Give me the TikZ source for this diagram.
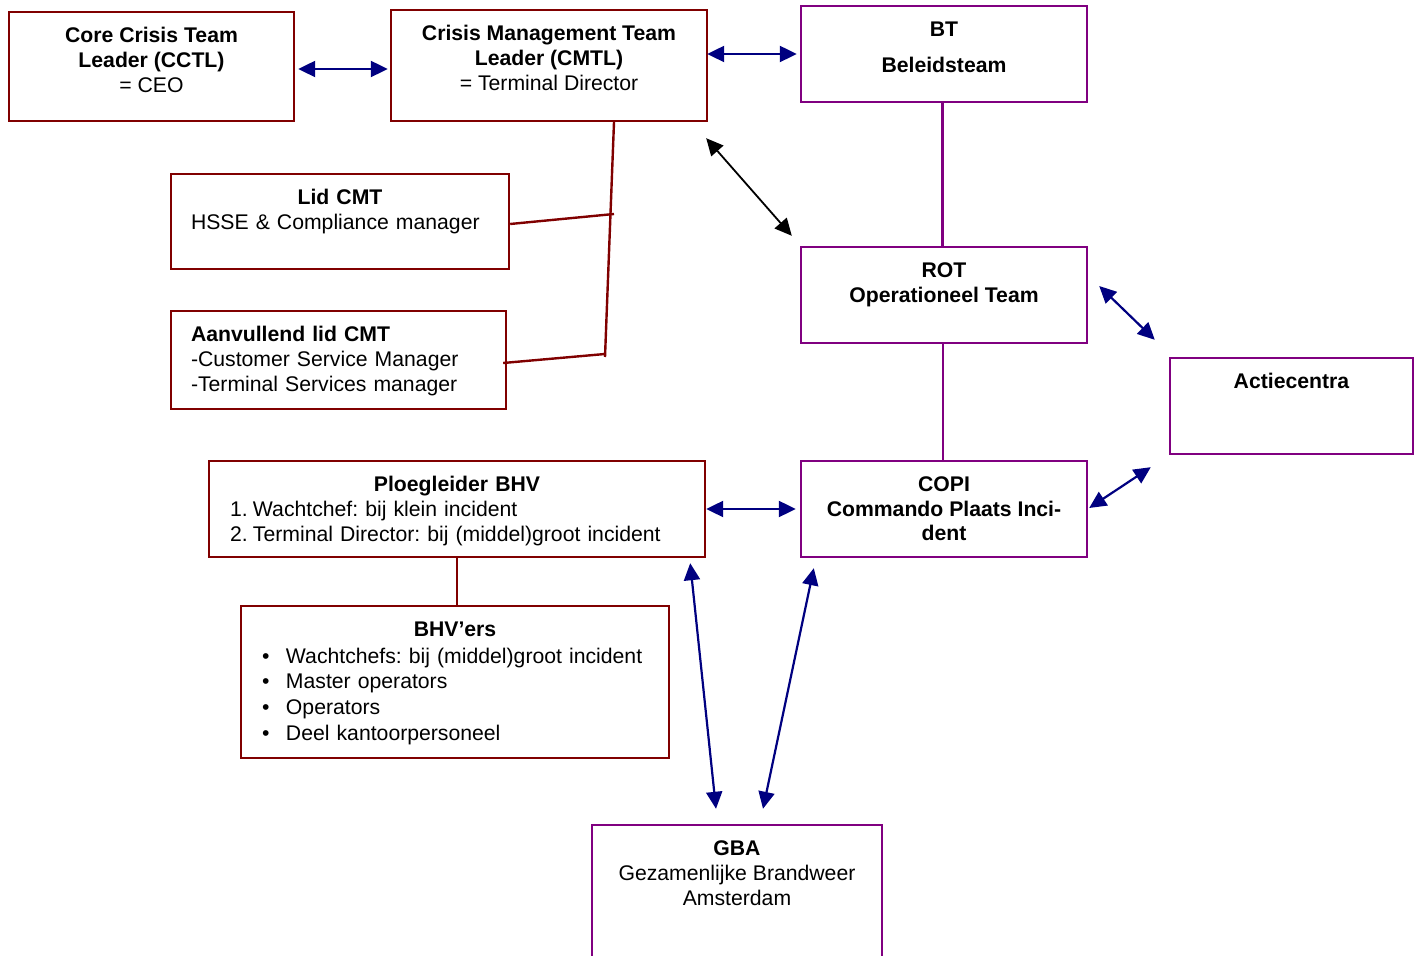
\documentclass[tikz,border=0pt]{standalone}
\usepackage{fontspec}
\setmainfont{Liberation Sans}
\usetikzlibrary{positioning,calc,arrows.meta}
\definecolor{crisisred}{RGB}{128,0,0}
\definecolor{teampurple}{RGB}{128,0,128}
\definecolor{linkblue}{RGB}{0,0,128}
\newcommand{\boxfont}{\fontsize{10.6}{12.4}\selectfont\frenchspacing}

\begin{document}
\begin{tikzpicture}[x=0.5pt,y=-0.5pt,
   crisisbox/.style={draw=crisisred,line width=1.2pt,inner sep=0pt},
   teambox/.style={draw=teampurple,line width=1.2pt,inner sep=0pt},
   intext/.style={anchor=north,yshift=-8.2pt,inner sep=0pt,align=center,font=\boxfont},
   leftext/.style={intext,align=left},
   biarr/.style={{Triangle[length=8.5pt,width=8pt]}-{Triangle[length=8.5pt,width=8pt]},
               line width=1.1pt,color=linkblue},
   blackarr/.style={biarr,color=black,line width=0.9pt},
   teamline/.style={line width=1.1pt,color=teampurple},
   treeline/.style={line width=1.2pt,color=crisisred}]
  \clip (0,0) rectangle (1421,956);
  % leadership
  \node[crisisbox,minimum width=142.5pt,minimum height=54.5pt,
        label={[intext]north:{\textbf{Core Crisis Team}\\\textbf{Leader (CCTL)}\\= CEO}}] (cctl) at (151.5,66.5) {};
  \node[crisisbox,minimum width=158pt,minimum height=55.5pt,
        label={[intext]north:{\textbf{Crisis Management Team}\\\textbf{Leader (CMTL)}\\= Terminal Director}}] (cmtl) at (549,65.5) {};
  \node[teambox,minimum width=143pt,minimum height=48pt,
        label={[intext]north:{\textbf{BT}\\[5.6pt]\textbf{Beleidsteam}}}] (bt) at (944,54) {};
  % CMT members
  \node[crisisbox,minimum width=169pt,minimum height=47.5pt,
        label={[leftext,text width=149pt]north:{\makebox[149pt]{\textbf{Lid CMT}}\\HSSE \& Compliance manager}}] (lid) at (340,221.5) {};
  \node[crisisbox,minimum width=167.5pt,minimum height=49pt,
        label={[leftext,text width=147.5pt]north:{\textbf{Aanvullend lid CMT}\\-Customer Service Manager\\-Terminal Services manager}}] (extra) at (338.5,360) {};
  % operational level
  \node[teambox,minimum width=143pt,minimum height=48pt,
        label={[intext]north:{\textbf{ROT}\\\textbf{Operationeel Team}}}] (rot) at (944,295) {};
  \node[teambox,minimum width=121.5pt,minimum height=48pt,
        label={[intext]north:{\textbf{Actiecentra}}}] (actie) at (1291.5,406) {};
  \node[crisisbox,minimum width=248pt,minimum height=48pt,
        label={[leftext,text width=227pt]north:{\makebox[227pt]{\textbf{Ploegleider BHV}}\\
          \makebox[11.5pt][l]{1.}Wachtchef: bij klein incident\\
          \makebox[11.5pt][l]{2.}Terminal Director: bij (middel)groot incident}}] (ploeg) at (457,509) {};
  \node[teambox,minimum width=143pt,minimum height=48pt,
        label={[intext]north:{\textbf{COPI}\\\textbf{Commando Plaats Inci-}\\\textbf{dent}}}] (copi) at (944,509) {};
  \node[crisisbox,minimum width=214pt,minimum height=76pt,
        label={[leftext,text width=193pt,font=\fontsize{10.6}{12.9}\selectfont\frenchspacing]north:{\makebox[193pt]{\textbf{BHV’ers}}\\[0.6pt]
          \makebox[12pt][l]{\textbullet}Wachtchefs: bij (middel)groot incident\\
          \makebox[12pt][l]{\textbullet}Master operators\\
          \makebox[12pt][l]{\textbullet}Operators\\
          \makebox[12pt][l]{\textbullet}Deel kantoorpersoneel}}] (bhvers) at (455,682) {};
  \node[teambox,minimum width=145pt,minimum height=75pt,
        label={[intext]north:{\textbf{GBA}\\Gezamenlijke Brandweer\\Amsterdam}}] (gba) at (737,900) {};
  % CMT tree
  \coordinate (lidjoin) at (614,214);
  \coordinate (extrajoin) at (605,354);
  \draw[treeline] ($(cmtl.south)+(65,0)$) -- ($(extrajoin)+(0,3)$);
  \draw[treeline] ($(lid.east)+(0,2.5)$) -- (lidjoin);
  \draw[treeline] ($(extra.east)+(-4,3)$) -- (extrajoin);
  \draw[treeline] (ploeg.south) -- (ploeg.south |- bhvers.north);
  % purple links
  \draw[teamline] ($(bt.south)+(-1.5,0)$) -- ($(rot.north)+(-1.5,0)$);
  \draw[teamline] ($(rot.south)+(-1,0)$) -- ($(copi.north)+(-1,0)$);
  % arrows
  \draw[biarr] ($(cctl.east)+(3,2.5)$) -- ($(cmtl.west)+(-2,3.5)$);
  \draw[biarr] ($(cmtl.east)+(-1,-11.5)$) -- ($(bt.west)+(-3,0)$);
  \draw[blackarr] ($(cmtl.south east)+(-2,16)$) -- ($(rot.north west)+(-8,-10)$);
  \draw[biarr] ($(rot.east)+(11,-9)$) -- ($(actie.north west)+(-14,-17)$);
  \draw[biarr] ($(copi.east)+(1,-1)$) -- ($(actie.south west)+(-18,12)$);
  \draw[biarr] (ploeg.east) -- ($(copi.west)+(-4,0)$);
  \draw[biarr] ($(ploeg.south east)+(-16,5)$) -- ($(gba.north)+(-21,-15)$);
  \draw[biarr] ($(copi.south west)+(14,10)$) -- ($(gba.north)+(26,-15)$);
\end{tikzpicture}
\end{document}
